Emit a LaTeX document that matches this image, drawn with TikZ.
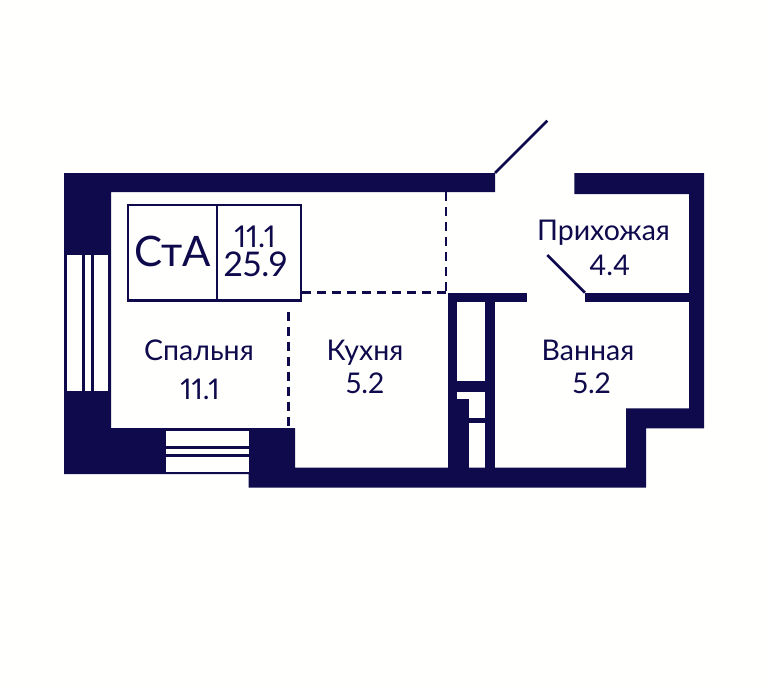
\documentclass[tikz,border=0pt]{standalone}
\usepackage{fontspec}
\setmainfont{Lato}[Numbers=Proportional]
\definecolor{planblue}{HTML}{0E0A4C}
\definecolor{planpaper}{HTML}{FFFFFD}
\tikzset{
    wall/.style={fill=planblue, draw=none},
    pane/.style={fill=planpaper, draw=none},
    leaf/.style={draw=planblue, line width=2.6pt},
    zone/.style={draw=planblue, line width=2.4pt, dash pattern=on 9pt off 6pt},
    frame/.style={draw=planblue, line width=2.3pt},
    lbl/.style={text=planblue, anchor=base, inner sep=0pt, font=\fontsize{28.5}{28.5}\selectfont},
    lblbig/.style={text=planblue, anchor=base, inner sep=0pt, font=\fontsize{42}{42}\selectfont},
    lblsum/.style={text=planblue, anchor=base, inner sep=0pt, font=\fontsize{34}{34}\selectfont},
    lblmid/.style={text=planblue, anchor=base, inner sep=0pt, font=\fontsize{30}{30}\selectfont}
}
\begin{document}
\begin{tikzpicture}[x=1pt,y=-1pt]
    \useasboundingbox[fill=planpaper] (0,0) rectangle (768,688);

    % outer walls
    \fill[wall] (64,173) -- (495,173) -- (495,192) -- (111,192) -- (111,428)
        -- (295,428) -- (295,467.7) -- (626,467.7) -- (626,408.3) -- (689,408.3)
        -- (689,194) -- (574.3,194) -- (574.3,173) -- (704,173) -- (704,428.3)
        -- (646,428.3) -- (646,487.7) -- (248.7,487.7) -- (248.7,474) -- (64,474) -- cycle;

    % partitions
    \fill[wall] (448,292.7) rectangle (527.3,302.3);
    \fill[wall] (585,292.7) rectangle (690,302.3);
    \fill[wall] (447.7,292.7) rectangle (457.3,468);
    \fill[wall] (485,292.7) rectangle (495.3,468);
    \fill[wall] (457,381) rectangle (485,391.7);
    \fill[wall] (457,399.3) rectangle (469.3,468);
    \fill[wall] (469,417.7) rectangle (485,423.3);

    % windows
    \foreach \xa/\xb in {66.7/82.3, 85/90.7, 93.7/107.7}
        \fill[pane] (\xa,255) rectangle (\xb,390.7);
    \foreach \ya/\yb in {431/445.7, 448.7/454.3, 457.3/471.7}
        \fill[pane] (166,\ya) rectangle (248.7,\yb);

    % door leaves
    \draw[leaf] (495,173) -- (547.3,120.7);
    \draw[leaf] (547.3,255) -- (585,292.7);

    % zone borders
    \draw[zone] (288.5,311.7) -- (288.5,428);
    \draw[zone] (302,292.5) -- (446,292.5);
    \draw[zone] (446,192) -- (446,292.5);

    % area table
    \draw[frame] (127.8,204.8) rectangle (301,300.6);
    \draw[frame] (217,204.8) -- (217,300.6);

    \node[lblbig] (flattype) at (172.5,266) {СтА};
    \node[lblmid] (livingarea) at (255,247.5) {11.1};
    \node[lblsum] (totalarea) at (255.5,276.8) {25.9};

    % rooms
    \node[lbl] (bedroom) at (199,360) {Спальня};
    \node[lbl] (bedroomarea) at (200,399) {11.1};
    \node[lbl] (kitchen) at (365,360) {Кухня};
    \node[lbl] (kitchenarea) at (365,393) {5.2};
    \node[lbl] (bath) at (588,360.7) {Ванная};
    \node[lbl] (batharea) at (591.7,393) {5.2};
    \node[lbl] (hall) at (603.5,240) {Прихожая};
    \node[lbl] (hallarea) at (609.8,275.7) {4.4};
\end{tikzpicture}
\end{document}
